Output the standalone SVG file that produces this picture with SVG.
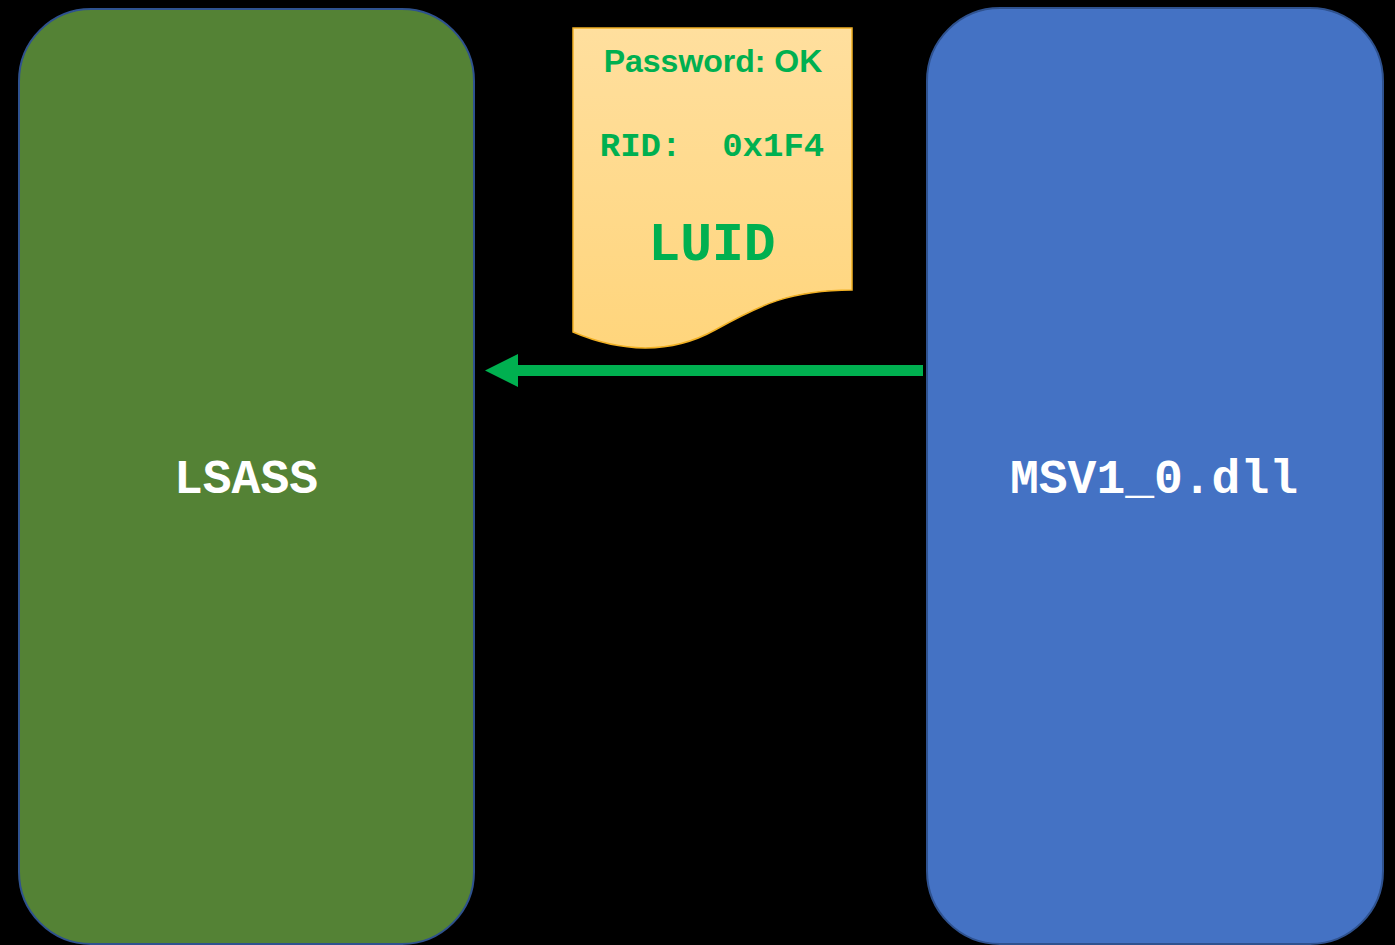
<svg xmlns="http://www.w3.org/2000/svg" width="1395" height="945" viewBox="0 0 1395 945">
  <defs>
    <linearGradient id="docGrad" x1="0" y1="0" x2="0" y2="1">
      <stop offset="0" stop-color="#FFDF9E"/>
      <stop offset="1" stop-color="#FFD57C"/>
    </linearGradient>
    <style>
      .box { stroke: #2F528F; stroke-width: 2; }
      .mono { font-family: "Liberation Mono", "Courier New", monospace; font-weight: bold; }
      .label { fill: #FFFFFF; font-size: 48px; text-anchor: middle; }
      .doctext { fill: #00B050; text-anchor: middle; }
    </style>
  </defs>
  <rect x="0" y="0" width="1395" height="945" fill="#000000"/>

  <g id="lsass">
    <rect class="box" x="19" y="9" width="455" height="935" rx="72" ry="72" fill="#548235"/>
    <text class="mono label" x="246" y="493">LSASS</text>
  </g>

  <g id="msv">
    <rect class="box" x="927" y="8" width="456" height="936" rx="73" ry="73" fill="#4472C4"/>
    <text class="mono label" x="1154" y="493">MSV1_0.dll</text>
  </g>

  <g id="document">
    <path d="M573,28 L852,28 L852,290 C790,290 760,305 715,330 C670,355 620,352 573,332 Z" fill="url(#docGrad)" stroke="#F2B124" stroke-width="1.5"/>
    <text class="doctext" x="713" y="72" font-family="Liberation Sans, Arial, sans-serif" font-weight="bold" font-size="32px">Password: OK</text>
    <text class="mono doctext" x="712" y="156" font-size="34px" xml:space="preserve">RID:  0x1F4</text>
    <text class="mono doctext" x="712" y="260" font-size="53px">LUID</text>
  </g>

  <g id="connectors">
    <line x1="923" y1="370.5" x2="516" y2="370.5" stroke="#00B050" stroke-width="11"/>
    <polygon points="485,370.5 518,354 518,387" fill="#00B050"/>
  </g>
</svg>
